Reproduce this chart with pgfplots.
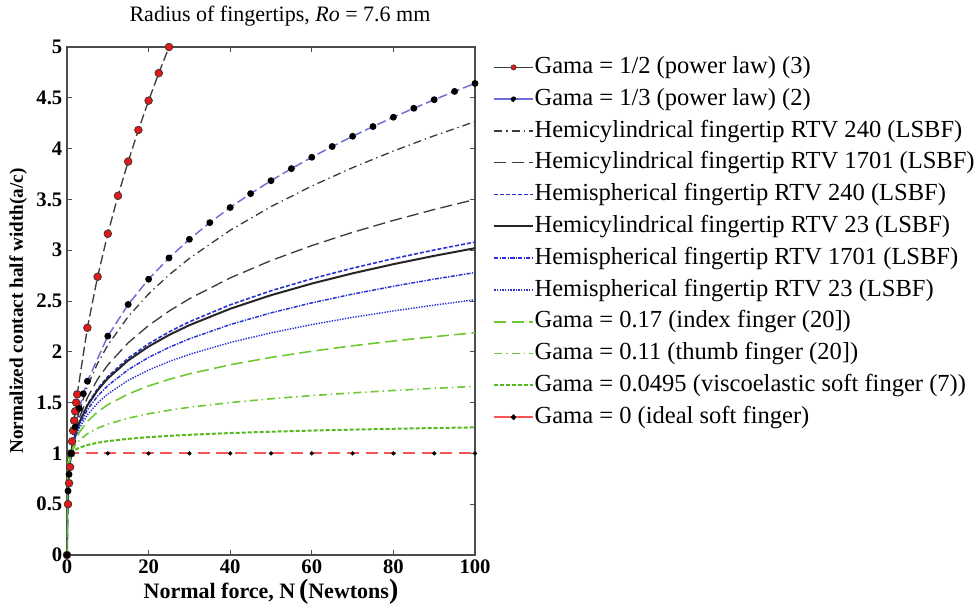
\documentclass[border=0pt]{standalone}
\usepackage{fontspec}
\setmainfont{Liberation Serif}
\usepackage{pgfplots}
\usepackage{pgfplotstable}
\pgfplotsset{compat=1.18}
\definecolor{dgray}{RGB}{60,60,60}
\definecolor{redm}{RGB}{225,25,25}
\definecolor{lav}{RGB}{110,110,215}
\definecolor{bl}{RGB}{40,50,210}
\definecolor{gr}{RGB}{110,200,50}
\definecolor{gr2}{RGB}{85,185,30}
\definecolor{pinkr}{RGB}{245,85,85}

\pgfplotstableread{
x g0495 g11 g17 g200 g222 g240 g2443 g272 g315
0 0 0 0 0 0 0 0 0 0
0.001 0.7104 0.4677 0.3090 0.2512 0.2158 0.1905 0.1849 0.1528 0.1135
0.01 0.7962 0.6026 0.4571 0.3981 0.3597 0.3311 0.3246 0.2858 0.2344
0.05 0.8622 0.7193 0.6010 0.5493 0.5143 0.4873 0.4810 0.4427 0.3892
0.1 0.8923 0.7763 0.6761 0.6310 0.5998 0.5754 0.5697 0.5346 0.4842
0.25 0.9337 0.8586 0.7900 0.7579 0.7351 0.7170 0.7127 0.6859 0.6461
0.5 0.9663 0.9266 0.8888 0.8706 0.8574 0.8468 0.8442 0.8282 0.8039
1 1 1 1 1 1 1 1 1 1
2 1.0349 1.0792 1.1251 1.1487 1.1663 1.1810 1.1845 1.2075 1.2440
3 1.0559 1.1285 1.2053 1.2457 1.2762 1.3017 1.3078 1.3483 1.4135
5 1.0829 1.1937 1.3147 1.3797 1.4294 1.4715 1.4817 1.5492 1.6602
7.5 1.1049 1.2481 1.4085 1.4963 1.5641 1.6218 1.6360 1.7299 1.8864
10 1.1207 1.2882 1.4791 1.5849 1.6673 1.7378 1.7551 1.8707 2.0654
15 1.1435 1.3470 1.5847 1.7188 1.8243 1.9153 1.9378 2.0889 2.3468
20 1.1598 1.3903 1.6641 1.8206 1.9446 2.0523 2.0790 2.2588 2.5694
25 1.1727 1.4249 1.7285 1.9037 2.0433 2.1652 2.1954 2.4002 2.7565
30 1.1834 1.4538 1.7829 1.9744 2.1277 2.2621 2.2954 2.5222 2.9194
40 1.2003 1.5005 1.8722 2.0913 2.2681 2.4238 2.4626 2.7275 3.1963
50 1.2137 1.5378 1.9446 2.1867 2.3833 2.5571 2.6005 2.8981 3.4290
60 1.2247 1.5689 2.0058 2.2679 2.4817 2.6715 2.7189 3.0454 3.6316
70 1.2341 1.5958 2.0591 2.3389 2.5681 2.7722 2.8233 3.1759 3.8124
80 1.2423 1.6194 2.1063 2.4022 2.6453 2.8625 2.9169 3.2933 3.9761
90 1.2495 1.6405 2.1489 2.4595 2.7154 2.9445 3.0021 3.4006 4.1265
100 1.2560 1.6596 2.1878 2.5119 2.7797 3.0199 3.0803 3.4993 4.2658
}\lsbf

\begin{document}
\begin{tikzpicture}
\begin{axis}[
  scale only axis,
  width=306pt, height=381pt,
  xmin=0, xmax=100, ymin=0, ymax=5,
  xtick={0,20,40,60,80,100},
  ytick={0,0.5,1,1.5,2,2.5,3,3.5,4,4.5,5},
  tick align=inside,
  major tick length=3.75pt,
  axis line style={black!70, line width=0.9pt},
  every tick/.style={black!70, line width=0.7pt},
  /pgf/number format/assume math mode=true,
  ticklabel style={font=\fontsize{15.5}{16}\selectfont\bfseries},
  xlabel={Normal force, N\,{\fontsize{21}{21}\selectfont(}Newtons{\fontsize{21}{21}\selectfont)}},
  ylabel={Normalized contact half width(a/c)},
  xlabel style={font=\fontsize{16.5}{18}\selectfont\bfseries, at={(rel axis cs:0.5,-0.0866)}, anchor=base},
  ylabel style={font=\fontsize{14.4}{16}\selectfont\bfseries, at={(rel axis cs:-0.120,0.48)}, anchor=center},
  title={Radius of fingertips, \textit{Ro} = 7.6 mm},
  title style={at={(rel axis cs:0.522,1.0335)}, anchor=base, font=\fontsize{16.5}{18}\selectfont},
  legend cell align=left,
  legend image code/.code={\draw[mark repeat=2,mark phase=2,#1] plot coordinates {(0pt,0pt) (14.5pt,0pt) (29pt,0pt)};},
  legend style={at={(1.0441,0.984)}, anchor=north west, draw=none, fill=none,
    font=\fontsize{18.4}{20}\selectfont, row sep=5.85pt, inner sep=0pt,
    nodes={inner sep=0pt, text height=13.5pt, text depth=4.5pt},
    /tikz/every odd column/.append style={column sep=0.5pt}},
]
\addplot[dgray, line width=1pt, dash pattern=on 7pt off 3pt, mark=*, mark size=2.9pt,
  mark options={solid, fill=redm, draw=black!80, line width=0.5pt},
  legend image code/.code={\draw[solid, dgray, line width=1pt] (0pt,0pt) -- (29pt,0pt);
    \filldraw[solid, fill=redm, draw=black!80, line width=0.4pt] (14.5pt,0pt) circle (2pt);}]
  coordinates {(0,0) (0.25,0.5) (0.5,0.7071) (0.75,0.8660) (1,1) (1.25,1.1180) (1.5,1.2247) (1.75,1.3229) (2,1.4142) (2.25,1.5) (2.5,1.5811) (5,2.2361) (7.5,2.7386) (10,3.1623) (12.5,3.5355) (15,3.8730) (17.5,4.1833) (20,4.4721) (22.5,4.7434) (25,5)};
\addlegendentry{Gama = 1/2 (power law) (3)}
\addplot[lav, line width=1.1pt, dash pattern=on 7pt off 3pt, mark=*, mark size=2pt,
  mark options={solid, fill=black, draw=black},
  legend image code/.code={\draw[solid, lav, line width=1.1pt] (0pt,0pt) -- (29pt,0pt);
    \fill[black] (14.5pt,0pt) circle (1.5pt);}]
  coordinates {(0,0) (0.25,0.63) (0.5,0.7937) (1,1) (2,1.2599) (3,1.4422) (4,1.5874) (5,1.71) (10,2.1544) (15,2.4662) (20,2.7144) (25,2.9240) (30,3.1072) (35,3.2711) (40,3.4200) (45,3.5569) (50,3.6840) (55,3.8030) (60,3.9149) (65,4.0207) (70,4.1213) (75,4.2172) (80,4.3089) (85,4.3968) (90,4.4814) (95,4.5629) (100,4.6416)};
\addlegendentry{Gama = 1/3 (power law) (2)}
\addplot[dgray, line width=1pt, dash pattern=on 6pt off 3pt on 1pt off 3pt] table[x=x,y=g315] {\lsbf};
\addlegendentry{Hemicylindrical fingertip RTV 240 (LSBF)}
\addplot[dgray, line width=1pt, dash pattern=on 9pt off 4pt] table[x=x,y=g272] {\lsbf};
\addlegendentry{Hemicylindrical fingertip RTV 1701 (LSBF)}
\addplot[bl, line width=1.2pt, dash pattern=on 3pt off 1.5pt] table[x=x,y=g2443] {\lsbf};
\addlegendentry{Hemispherical fingertip RTV 240 (LSBF)}
\addplot[black!85, line width=1.5pt] table[x=x,y=g240] {\lsbf};
\addlegendentry{Hemicylindrical fingertip RTV 23 (LSBF)}
\addplot[bl, line width=1.1pt, dash pattern=on 3pt off 1pt on 1pt off 1pt] table[x=x,y=g222] {\lsbf};
\addlegendentry{Hemispherical fingertip RTV 1701 (LSBF)}
\addplot[bl, line width=1.1pt, dash pattern=on 1pt off 1pt] table[x=x,y=g200] {\lsbf};
\addlegendentry{Hemispherical fingertip RTV 23 (LSBF)}
\addplot[gr, line width=1.2pt, dash pattern=on 9pt off 4pt] table[x=x,y=g17] {\lsbf};
\addlegendentry{Gama = 0.17 (index finger (20])}
\addplot[gr, line width=1.2pt, dash pattern=on 6pt off 3pt on 1pt off 3pt] table[x=x,y=g11] {\lsbf};
\addlegendentry{Gama = 0.11 (thumb finger (20])}
\addplot[gr2, line width=1.5pt, dash pattern=on 3pt off 1.5pt] table[x=x,y=g0495] {\lsbf};
\addlegendentry{Gama = 0.0495 (viscoelastic soft finger (7))}
\addplot[pinkr, line width=1.4pt, dash pattern=on 9pt off 5pt, no marks,
  legend image code/.code={\draw[solid, pinkr, line width=1.4pt] (0pt,0pt) -- (29pt,0pt);
    \fill[black] (14.5pt,0pt) circle (1.3pt);}]
  coordinates {(0,1) (10,1) (20,1) (30,1) (40,1) (50,1) (60,1) (70,1) (80,1) (90,1) (100,1)};
\addlegendentry{Gama = 0 (ideal soft finger)}
\addplot[only marks, mark=*, mark size=1.4pt, mark options={fill=black, draw=black}, forget plot]
  coordinates {(10,1) (20,1) (30,1) (40,1) (50,1) (60,1) (70,1) (80,1) (90,1) (100,1)};
\end{axis}
\pgfresetboundingbox
\path[use as bounding box] (-50.25pt,-39.75pt) rectangle (681.75pt,416.25pt);
\end{tikzpicture}
\end{document}
